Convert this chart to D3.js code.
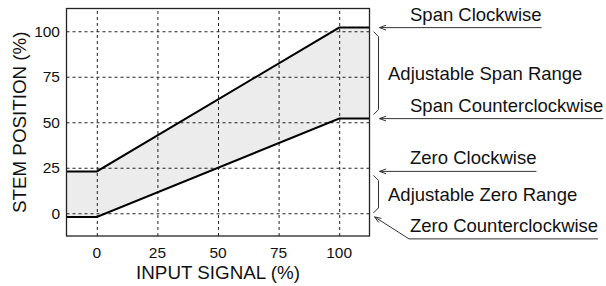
<!DOCTYPE html>
<html>
<head>
<meta charset="utf-8">
<script src="https://cdn.jsdelivr.net/npm/d3@7"></script>
<style>
  body { margin: 0; background: #fff; }
  text { font-family: "Liberation Sans", Arial, Helvetica, sans-serif; fill: #111; }
</style>
</head>
<body>
<div id="chart"></div>
<script>
var xTicks = [0, 25, 50, 75, 100];
var yTicks = [0, 25, 50, 75, 100];
var signal = [-12.5, 0, 100, 112.5];
var spanClockwise = [23, 23, 102, 102];
var zeroCounterclockwise = [-2, -2, 52, 52];

var pointers = [
  { name: "Span Clockwise", value: 102 },
  { name: "Span Counterclockwise", value: 52 },
  { name: "Zero Clockwise", value: 23 },
  { name: "Zero Counterclockwise", value: -2 }
];
var ranges = [
  { name: "Adjustable Span Range", from: 52, to: 102 },
  { name: "Adjustable Zero Range", from: -2, to: 23 }
];

var width = 606, height = 286;
var plotLeft = 66.5, plotTop = 8.5, plotW = 303, plotH = 227.5;

var x = d3.scaleLinear().domain([-12.5, 112.5]).range([plotLeft, plotLeft + plotW]);
var y = d3.scaleLinear().domain([-12.5, 112.5]).range([plotTop + plotH, plotTop]);

var svg = d3.select('#chart').append('svg')
  .attr('width', width)
  .attr('height', height);

// band between the two limit lines
var rows = signal.map(function(s, i) { return { s: s, lo: zeroCounterclockwise[i], hi: spanClockwise[i] }; });

svg.append('path')
  .datum(rows)
  .attr('fill', '#ececec')
  .attr('d', d3.area()
    .x(function(d) { return x(d.s); })
    .y0(function(d) { return y(d.lo); })
    .y1(function(d) { return y(d.hi); }));

// dashed grid
svg.append('g')
  .attr('transform', 'translate(0,' + (plotTop + plotH) + ')')
  .call(d3.axisBottom(x).tickValues(xTicks).tickSize(-plotH).tickFormat(''))
  .call(function(g) {
    g.select('.domain').remove();
    g.selectAll('.tick line').attr('stroke', '#222').attr('stroke-dasharray', '3,3');
  });

svg.append('g')
  .attr('transform', 'translate(' + plotLeft + ',0)')
  .call(d3.axisLeft(y).tickValues(yTicks).tickSize(-plotW).tickFormat(''))
  .call(function(g) {
    g.select('.domain').remove();
    g.selectAll('.tick line').attr('stroke', '#222').attr('stroke-dasharray', '3,3');
  });

// limit lines
var line = d3.line().x(function(d) { return x(d.s); });

svg.append('path')
  .datum(rows)
  .attr('fill', 'none')
  .attr('stroke', '#000')
  .attr('stroke-width', 2)
  .attr('d', line.y(function(d) { return y(d.hi); }));

svg.append('path')
  .datum(rows)
  .attr('fill', 'none')
  .attr('stroke', '#000')
  .attr('stroke-width', 2)
  .attr('d', line.y(function(d) { return y(d.lo); }));

// frame
svg.append('rect')
  .attr('x', plotLeft)
  .attr('y', plotTop)
  .attr('width', plotW)
  .attr('height', plotH)
  .attr('fill', 'none')
  .attr('stroke', '#222')
  .attr('stroke-width', 1.3);

// tick labels
svg.selectAll('text.xtick')
  .data(xTicks)
  .enter()
  .append('text')
    .attr('class', 'xtick')
    .attr('x', function(d) { return x(d); })
    .attr('y', 258)
    .attr('text-anchor', 'middle')
    .attr('font-size', 15.5)
    .text(function(d) { return d; });

svg.selectAll('text.ytick')
  .data(yTicks)
  .enter()
  .append('text')
    .attr('class', 'ytick')
    .attr('x', plotLeft - 6.5)
    .attr('y', function(d) { return y(d); })
    .attr('dy', '0.36em')
    .attr('text-anchor', 'end')
    .attr('font-size', 15.5)
    .text(function(d) { return d; });

// axis titles
svg.append('text')
  .attr('x', plotLeft + plotW / 2)
  .attr('y', 279)
  .attr('text-anchor', 'middle')
  .attr('font-size', 18.8)
  .text('INPUT SIGNAL (%)');

svg.append('text')
  .attr('transform', 'translate(26,' + (plotTop + plotH / 2) + ') rotate(-90)')
  .attr('text-anchor', 'middle')
  .attr('font-size', 18.8)
  .text('STEM POSITION (%)');

// right-hand annotations
var tipX = x(112.5) + 10;
var textX = 410;

pointers.forEach(function(p, i) {
  var ly = y(p.value);
  var diag = p.name === 'Zero Counterclockwise';
  var baseY = diag ? ly + 22 : ly;
  var t = svg.append('text')
    .attr('x', textX)
    .attr('y', baseY - 7)
    .attr('font-size', 18.5)
    .text(p.name);
  var endX = textX + t.node().getComputedTextLength();
  var tx = diag ? tipX - 5 : tipX;
  var pts = diag ? [[tx, ly], [textX - 1, baseY], [endX, baseY]] : [[tx, ly], [endX, ly]];
  svg.append('path')
    .attr('d', d3.line()(pts))
    .attr('fill', 'none')
    .attr('stroke', '#333')
    .attr('stroke-width', 1);
  // small open arrow head
  var ang = Math.atan2(pts[1][1] - pts[0][1], pts[1][0] - pts[0][0]);
  var a1 = ang + 0.35, a2 = ang - 0.35;
  svg.append('path')
    .attr('d', d3.line()([[tx + 7 * Math.cos(a1), ly + 7 * Math.sin(a1)], [tx, ly], [tx + 7 * Math.cos(a2), ly + 7 * Math.sin(a2)]]))
    .attr('fill', 'none')
    .attr('stroke', '#333')
    .attr('stroke-width', 1);
});

ranges.forEach(function(r) {
  var y0 = y(r.to) + 4, y1 = y(r.from) - 4;
  var bx = x(112.5) + 9;
  svg.append('path')
    .attr('d', d3.line()([[bx - 5, y0], [bx, y0 + 5], [bx, y1 - 5], [bx - 5, y1]]))
    .attr('fill', 'none')
    .attr('stroke', '#333')
    .attr('stroke-width', 1);
  svg.append('text')
    .attr('x', 388)
    .attr('y', (y0 + y1) / 2)
    .attr('dy', '0.36em')
    .attr('font-size', 18.5)
    .text(r.name);
});
</script>
</body>
</html>
